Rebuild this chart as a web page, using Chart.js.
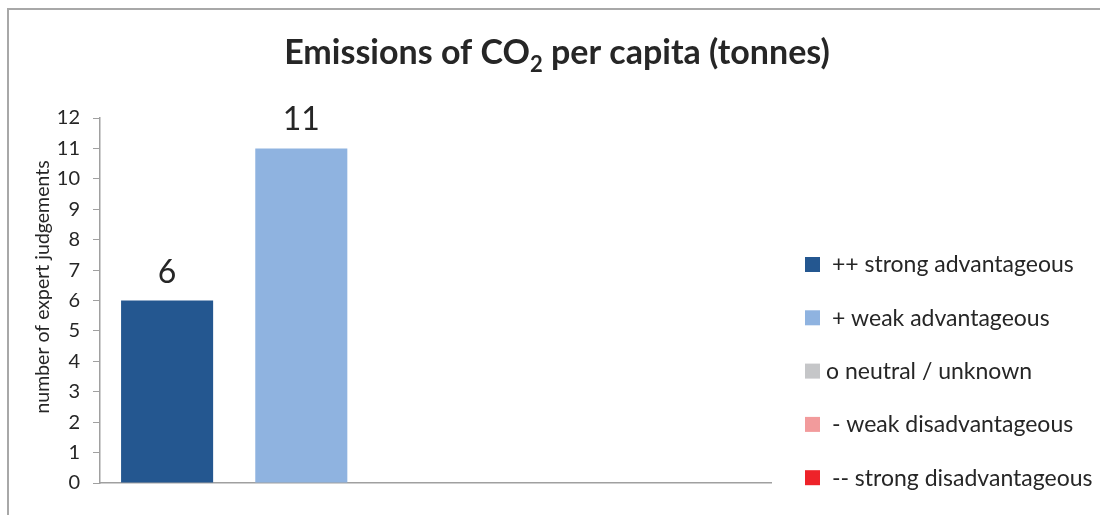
<!DOCTYPE html>
<html>
<head>
<meta charset="utf-8">
<script src="https://cdn.jsdelivr.net/npm/chart.js@4"></script>
<style>
  html, body { margin: 0; padding: 0; background: #fff; }
  #wrap { width: 1100px; height: 515px; position: relative; }
</style>
</head>
<body>
<div id="wrap"><canvas id="chart-area" width="1100" height="515"></canvas></div>
<script>
// categories and counts
var categories = [' ++ strong advantageous', ' + weak advantageous', 'o neutral / unknown', ' - weak disadvantageous', ' -- strong disadvantageous'];
var counts = [6, 11, 0, 0, 0];
var colors = ['#245790', '#8fb3e0', '#c5c6c8', '#f29b9c', '#ee2229'];
var yTicks = [0, 1, 2, 3, 4, 5, 6, 7, 8, 9, 10, 11, 12];
var yTitle = 'number of expert judgements';

var FONT = 'Lato, "Open Sans", sans-serif';
var TEXT = '#262626';
var LINE = '#a0a0a0';

// outer frame, titles, value labels and legend
var decor = {
	id: 'decor',
	beforeDraw: function(chart){
		var ctx = chart.ctx;
		ctx.save();
		ctx.fillStyle = '#fff';
		ctx.fillRect(0, 0, chart.width, chart.height);
		ctx.strokeStyle = '#a8a8a8';
		ctx.lineWidth = 2;
		ctx.beginPath();
		ctx.moveTo(8, chart.height);
		ctx.lineTo(8, 9);
		ctx.lineTo(chart.width, 9);
		ctx.stroke();
		ctx.restore();
	},
	afterDraw: function(chart){
		var ctx = chart.ctx;
		ctx.save();

		// title (CO2 with subscript)
		var big = 'bold 34px ' + FONT, small = 'bold 22px ' + FONT;
		var parts = [['Emissions of CO', big, 0], ['2', small, 8], [' per capita (tonnes)', big, 0]];
		var total = 0;
		parts.forEach(function(p){ ctx.font = p[1]; total += ctx.measureText(p[0]).width; });
		var x = 557 - total / 2;
		ctx.fillStyle = TEXT;
		ctx.textBaseline = 'alphabetic';
		ctx.textAlign = 'left';
		parts.forEach(function(p){
			ctx.font = p[1];
			ctx.fillText(p[0], x, 64 + p[2]);
			x += ctx.measureText(p[0]).width;
		});

		// y axis title
		ctx.save();
		ctx.translate(43, 287);
		ctx.rotate(-Math.PI / 2);
		ctx.font = '19.5px ' + FONT;
		ctx.textAlign = 'center';
		ctx.textBaseline = 'middle';
		ctx.fillText(yTitle, 0, 0);
		ctx.restore();

		// values above bars
		var meta = chart.getDatasetMeta(0);
		ctx.font = '32px ' + FONT;
		ctx.textAlign = 'center';
		ctx.textBaseline = 'alphabetic';
		meta.data.forEach(function(bar, i){
			var v = chart.data.datasets[0].data[i];
			if (v > 0) ctx.fillText(String(v), bar.x, bar.y - 18);
		});

		// legend
		ctx.font = '23px ' + FONT;
		ctx.textAlign = 'left';
		ctx.textBaseline = 'middle';
		for (var i = 0; i < categories.length; i++) {
			var cy = 264 + i * 53.3;
			ctx.fillStyle = colors[i];
			ctx.fillRect(805, cy - 7, 15, 15);
			ctx.fillStyle = TEXT;
			ctx.fillText(categories[i], 826, cy + 1);
		}
		ctx.restore();
	}
};

var config = {
	type: 'bar',
	data: {
		labels: categories,
		datasets: [{
			data: counts,
			backgroundColor: colors,
			categoryPercentage: 1,
			barPercentage: 0.686
		}]
	},
	options: {
		responsive: false,
		animation: false,
		layout: { padding: { top: 118, right: 329, left: 0, bottom: 0 } },
		plugins: {
			legend: { display: false },
			title: { display: false },
			tooltip: { enabled: false }
		},
		scales: {
			x: {
				grid: { display: false },
				ticks: { display: false },
				border: { color: LINE, width: 1.5 },
				afterFit: function(scale){ scale.height = 32; }
			},
			y: {
				min: 0,
				max: 12,
				afterBuildTicks: function(scale){
					scale.ticks = yTicks.map(function(v){ return { value: v }; });
				},
				grid: { drawOnChartArea: false, drawTicks: true, tickLength: 7, color: LINE },
				border: { color: LINE, width: 1.5 },
				ticks: { color: TEXT, font: { family: FONT, size: 20 }, padding: 13 },
				afterFit: function(scale){ scale.width = 100; }
			}
		}
	},
	plugins: [decor]
};

var ctx = document.getElementById('chart-area').getContext('2d');
window.myBar = new Chart(ctx, config);
</script>
</body>
</html>
